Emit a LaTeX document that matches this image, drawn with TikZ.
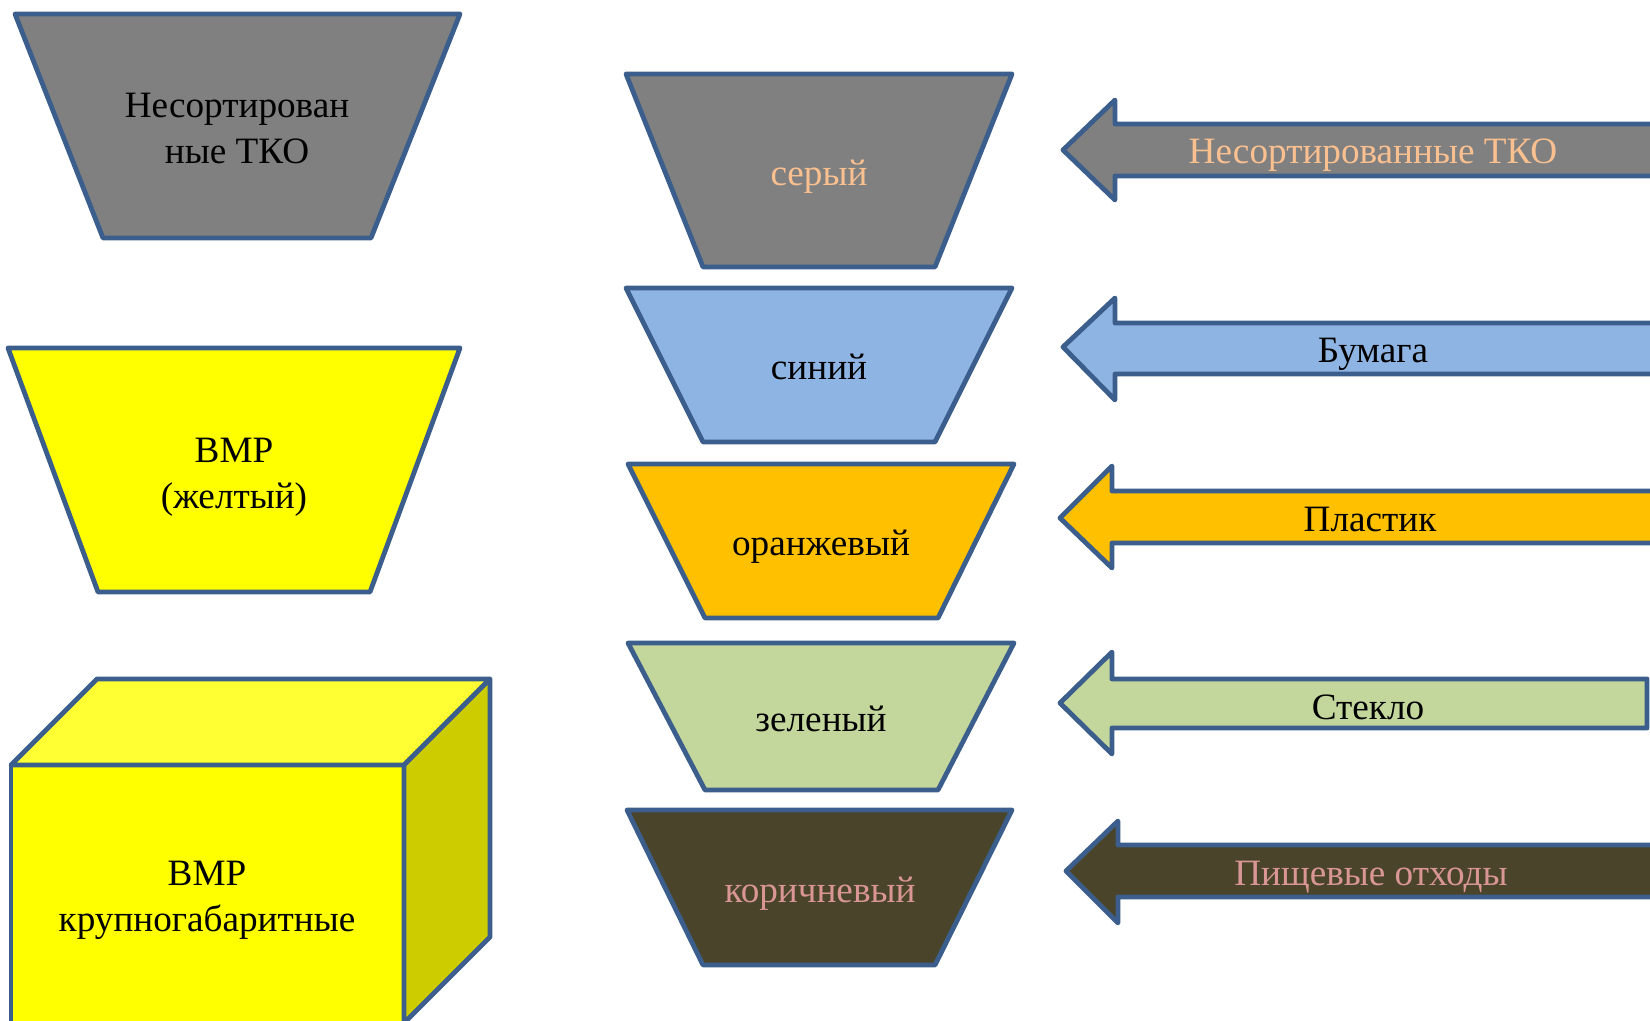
\documentclass[tikz,border=0pt]{standalone}
\usepackage{fontspec}
\setmainfont{Liberation Serif}
\definecolor{edge}{HTML}{3B5E8C}
\definecolor{binGray}{HTML}{808080}
\definecolor{binBlue}{HTML}{8EB4E3}
\definecolor{binOrange}{HTML}{FFC000}
\definecolor{binGreen}{HTML}{C3D69B}
\definecolor{binBrown}{HTML}{4A452A}
\definecolor{binYellow}{HTML}{FFFF00}
\definecolor{cubeTop}{HTML}{FFFF33}
\definecolor{cubeSide}{HTML}{CCCC00}
\definecolor{peach}{HTML}{FAC090}
\definecolor{rose}{HTML}{D99694}
\begin{document}
\begin{tikzpicture}[x=0.5pt,y=-0.5pt,
  shapeline/.style={draw=edge,line width=2.4pt,line join=round},
  lbl/.style={font=\fontsize{18.6}{23}\selectfont,align=center,inner sep=0pt}]
\clip (0,0) rectangle (1650,1021);
\fill[white] (0,0) rectangle (1650,1021);

% left column
\filldraw[shapeline,fill=binGray] (15,14) -- (460,14) -- (371,238) -- (103,238) -- cycle;
\node[lbl] (tko) at (237,129) {Несортирован\\ные ТКО};

\filldraw[shapeline,fill=binYellow] (8,348) -- (460,348) -- (370,592) -- (98,592) -- cycle;
\node[lbl] (vmr) at (234,477) {ВМР\\(желтый)};

\filldraw[shapeline,fill=binYellow] (11,765) rectangle (404,1025);
\filldraw[shapeline,fill=cubeTop] (11,765) -- (97,679) -- (490,679) -- (404,765) -- cycle;
\filldraw[shapeline,fill=cubeSide] (404,765) -- (490,679) -- (490,937) -- (404,1023) -- cycle;
\node[lbl] (big) at (207,900) {ВМР\\крупногабаритные};

% middle column
\filldraw[shapeline,fill=binGray] (626,74) -- (1012,74) -- (935,267) -- (703,267) -- cycle;
\node[lbl,text=peach] (gray) at (819,177) {серый};
\filldraw[shapeline,fill=binBlue] (626,288) -- (1012,288) -- (935,442) -- (703,442) -- cycle;
\node[lbl] (blue) at (819,367) {синий};
\filldraw[shapeline,fill=binOrange] (628,464) -- (1014,464) -- (938,618) -- (705,618) -- cycle;
\node[lbl] (orange) at (821,547) {оранжевый};
\filldraw[shapeline,fill=binGreen] (628,643) -- (1014,643) -- (938,790) -- (705,790) -- cycle;
\node[lbl] (green) at (821,719) {зеленый};
\filldraw[shapeline,fill=binBrown] (627,810) -- (1012,810) -- (935,965) -- (703,965) -- cycle;
\node[lbl,text=rose] (brown) at (820,894) {коричневый};

% arrows
\filldraw[shapeline,fill=binGray] (1063,150) -- (1115,100) -- (1115,124) -- (1700,124) -- (1700,176) -- (1115,176) -- (1115,200) -- cycle;
\node[lbl,text=peach] (a1) at (1373,155) {Несортированные ТКО};
\filldraw[shapeline,fill=binBlue] (1063,347) -- (1115,298) -- (1115,323) -- (1700,323) -- (1700,374) -- (1115,374) -- (1115,400) -- cycle;
\node[lbl] (a2) at (1373,354) {Бумага};
\filldraw[shapeline,fill=binOrange] (1060,518) -- (1112,466) -- (1112,491) -- (1700,491) -- (1700,543) -- (1112,543) -- (1112,568) -- cycle;
\node[lbl] (a3) at (1370,520) {Пластик};
\filldraw[shapeline,fill=binGreen] (1060,703) -- (1112,652) -- (1112,679) -- (1647,679) -- (1647,728) -- (1112,728) -- (1112,754) -- cycle;
\node[lbl] (a4) at (1368,707) {Стекло};
\filldraw[shapeline,fill=binBrown] (1066,871) -- (1118,821) -- (1118,845) -- (1700,845) -- (1700,897) -- (1118,897) -- (1118,923) -- cycle;
\node[lbl,text=rose] (a5) at (1371,877) {Пищевые отходы};
\end{tikzpicture}
\end{document}
